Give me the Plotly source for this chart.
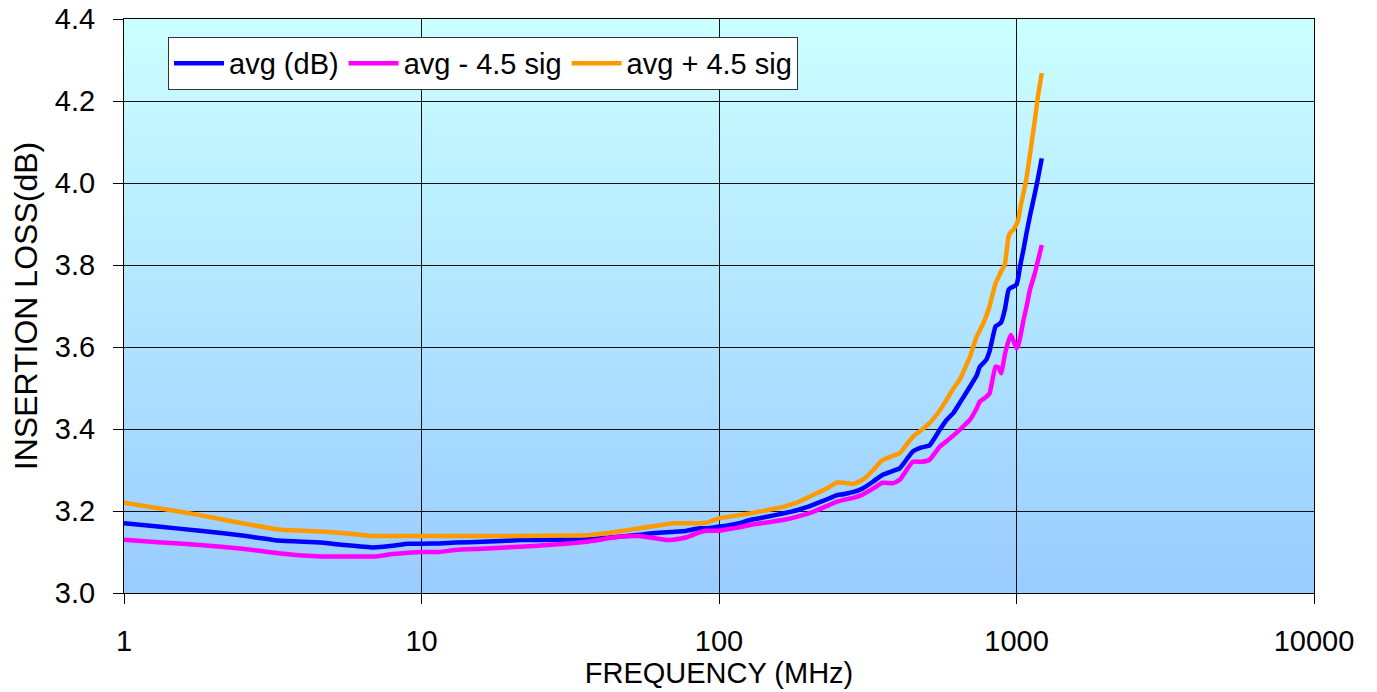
import plotly.graph_objects as go

freq_mhz = [1, 1.3, 1.8, 2.5, 3.3, 4.6, 5.5, 6.9, 8, 9, 10, 11.5, 13, 16, 21.5, 28, 36, 46, 54, 60,
            67, 70, 78, 86, 91, 100, 106, 117, 127, 145, 164, 185, 207, 230, 248, 262, 282, 304, 330, 354,
            385, 405, 448, 480, 510, 552, 582, 615, 644, 697, 734, 753, 790, 812, 850, 870, 888, 913, 940, 958,
            975, 1000, 1014, 1030, 1055, 1082, 1110, 1153, 1180, 1216]

avg_db = [3.170, 3.162, 3.152, 3.140, 3.128, 3.123, 3.117, 3.111, 3.115, 3.120,
          3.120, 3.121, 3.123, 3.125, 3.129, 3.130, 3.131, 3.137, 3.142, 3.146,
          3.148, 3.149, 3.152, 3.158, 3.158, 3.162, 3.164, 3.170, 3.178, 3.186,
          3.194, 3.203, 3.215, 3.228, 3.238, 3.241, 3.246, 3.255, 3.272, 3.288,
          3.298, 3.304, 3.345, 3.355, 3.360, 3.398, 3.422, 3.440, 3.463, 3.503,
          3.530, 3.552, 3.568, 3.590, 3.650, 3.655, 3.660, 3.690, 3.739, 3.745,
          3.747, 3.752, 3.770, 3.800, 3.837, 3.880, 3.920, 3.975, 4.010, 4.060]

avg_minus = [3.130, 3.124, 3.117, 3.108, 3.097, 3.089, 3.089, 3.089, 3.095, 3.098,
             3.100, 3.100, 3.105, 3.108, 3.113, 3.118, 3.125, 3.137, 3.139, 3.134,
             3.129, 3.130, 3.136, 3.148, 3.152, 3.152, 3.155, 3.160, 3.166, 3.172,
             3.178, 3.187, 3.198, 3.212, 3.222, 3.227, 3.232, 3.240, 3.255, 3.269,
             3.268, 3.276, 3.320, 3.320, 3.325, 3.357, 3.370, 3.385, 3.398, 3.422,
             3.450, 3.467, 3.478, 3.487, 3.552, 3.550, 3.536, 3.580, 3.615, 3.629,
             3.617, 3.597, 3.605, 3.625, 3.665, 3.700, 3.740, 3.780, 3.810, 3.849]

avg_plus = [3.220, 3.207, 3.190, 3.170, 3.155, 3.150, 3.146, 3.139, 3.139, 3.139,
            3.139, 3.139, 3.139, 3.139, 3.139, 3.140, 3.141, 3.150, 3.158, 3.163,
            3.168, 3.170, 3.170, 3.170, 3.172, 3.182, 3.185, 3.190, 3.194, 3.202,
            3.210, 3.222, 3.239, 3.255, 3.269, 3.269, 3.266, 3.276, 3.300, 3.324,
            3.335, 3.341, 3.381, 3.398, 3.414, 3.445, 3.471, 3.500, 3.520, 3.576,
            3.625, 3.640, 3.674, 3.700, 3.755, 3.770, 3.785, 3.800, 3.869, 3.881,
            3.885, 3.900, 3.910, 3.940, 3.975, 4.015, 4.070, 4.154, 4.210, 4.268]

series_names = ["avg (dB)", "avg - 4.5 sig", "avg + 4.5 sig"]
series_colors = ["#0000FF", "#FF00FF", "#FF9900"]

x_tickvals = [1, 10, 100, 1000, 10000]
x_ticktext = ["1", "10", "100", "1000", "10000"]
y_tickvals = [3.0, 3.2, 3.4, 3.6, 3.8, 4.0, 4.2, 4.4]
y_ticktext = ["3.0", "3.2", "3.4", "3.6", "3.8", "4.0", "4.2", "4.4"]

FONT = "Liberation Sans, Arial, sans-serif"

fig = go.Figure()
for name, vals, col in zip(series_names, [avg_db, avg_minus, avg_plus], series_colors):
    fig.add_trace(go.Scatter(x=freq_mhz, y=vals, mode="lines", name=name,
                             line=dict(color=col, width=4.5, shape="spline", smoothing=0.4)))

# vertical gradient background (light cyan top -> light blue bottom)
N = 80
top = (204, 255, 255)
bot = (153, 204, 255)
shapes = []
for i in range(N):
    t = (i + 0.5) / N
    c = tuple(round(bot[k] + (top[k] - bot[k]) * t) for k in range(3))
    shapes.append(dict(type="rect", xref="x domain", yref="y domain",
                       x0=0, x1=1, y0=i / N, y1=(i + 1) / N + 0.002,
                       fillcolor="rgb(%d,%d,%d)" % c, line=dict(width=0), layer="below"))

# the page body adds an 8px offset, margins compensate for it
fig.update_layout(
    width=1377, height=692,
    margin=dict(l=116, r=71, t=11, b=107, autoexpand=False),
    paper_bgcolor="white",
    plot_bgcolor="rgba(0,0,0,0)",
    font=dict(family=FONT, color="black", size=28),
    shapes=shapes,
    showlegend=True,
    legend=dict(orientation="h", x=0.037, y=0.969, xanchor="left", yanchor="top",
                bgcolor="white", bordercolor="#333333", borderwidth=1,
                font=dict(family=FONT, size=29, color="black"),
                itemwidth=50, tracegroupgap=0),
    xaxis=dict(type="log", range=[0, 4], tickvals=x_tickvals, ticktext=x_ticktext,
               automargin=False, ticklabeloverflow="allow",
               showgrid=True, gridcolor="#111111", gridwidth=1,
               showline=True, linecolor="black", linewidth=1, mirror=True,
               ticks="outside", ticklen=10, tickcolor="black", ticklabelstandoff=12,
               tickfont=dict(family=FONT, size=29),
               title=dict(text="FREQUENCY (MHz)", font=dict(family=FONT, size=29), standoff=0),
               zeroline=False),
    yaxis=dict(range=[3.0, 4.4], tickvals=y_tickvals, ticktext=y_ticktext,
               automargin=False, ticklabeloverflow="allow",
               showgrid=True, gridcolor="#111111", gridwidth=1,
               showline=True, linecolor="black", linewidth=1, mirror=True,
               ticks="outside", ticklen=10, tickcolor="black", ticklabelstandoff=12,
               tickfont=dict(family=FONT, size=29),
               title=dict(text="INSERTION LOSS(dB)", font=dict(family=FONT, size=32), standoff=8),
               zeroline=False),
)

fig.write_html("out.html")
